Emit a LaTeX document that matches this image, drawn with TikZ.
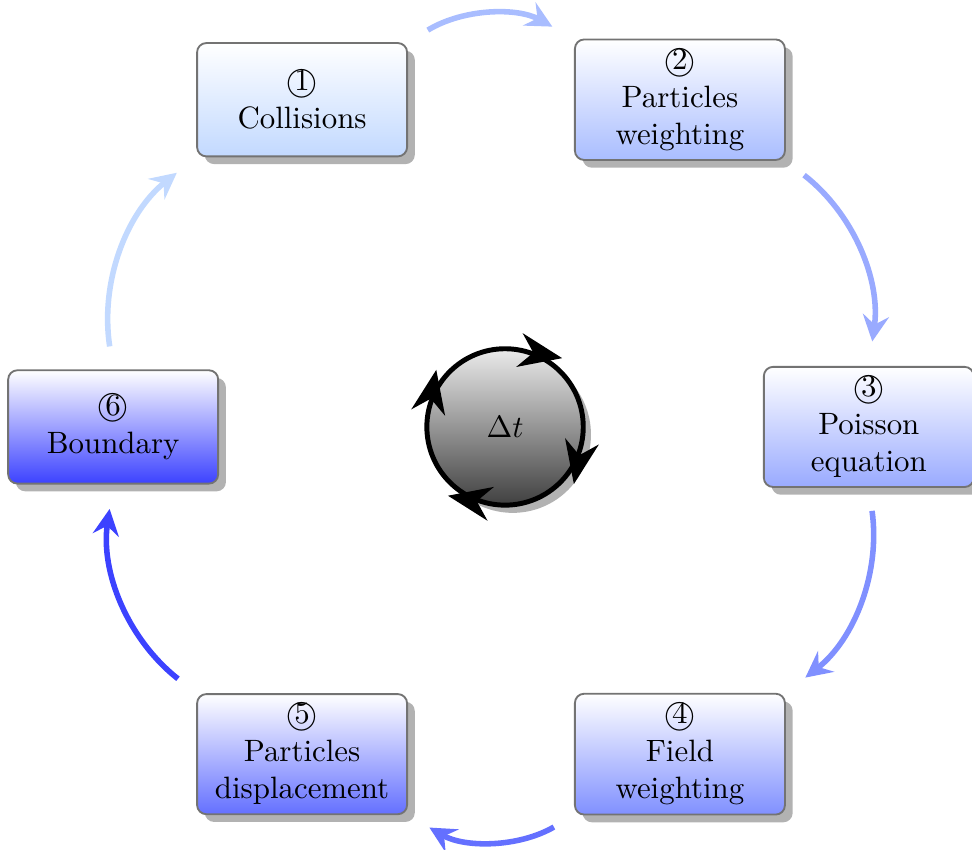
\documentclass[tikz,border=0pt]{standalone}
\usepackage{tikz}
\usetikzlibrary{arrows.meta, shadows, decorations.markings}
\definecolor{stepA}{HTML}{C2D9FF}
\definecolor{stepB}{HTML}{A9BDFF}
\definecolor{stepC}{HTML}{99AAFF}
\definecolor{stepD}{HTML}{8090FF}
\definecolor{stepE}{HTML}{6470FF}
\definecolor{stepF}{HTML}{3C42FF}
\tikzset{
  stepbox/.style={
    rectangle,
    draw=black!55,
    line width=0.6pt,
    rounded corners=3pt,
    minimum width=2.39cm,
    minimum height=1.29cm,
    align=center,
    inner sep=3pt,
    top color=white,
    bottom color=#1,
    drop shadow={shadow xshift=2.5pt, shadow yshift=-2.5pt, fill=black!30, opacity=1}
  },
  cyclearrow/.style={
    draw=#1,
    line width=1.8pt,
    -{Stealth[length=8.5pt,width=8.5pt,inset=3pt]},
    shorten <=7.5pt,
    shorten >=8pt,
    bend left=30
  },
  clockcircle/.style={
    circle,
    draw=black,
    line width=1.6pt,
    minimum size=1.78cm,
    top color=black!8,
    bottom color=black!75,
    drop shadow={shadow xshift=2.5pt, shadow yshift=-2.5pt, fill=black!30, opacity=1},
    >={Stealth[length=14pt,width=11pt,inset=4.5pt]},
    postaction={decorate},
    decoration={markings,
      mark=at position 0.22 with {\arrow{<}},
      mark=at position 0.47 with {\arrow{<}},
      mark=at position 0.72 with {\arrow{<}},
      mark=at position 0.97 with {\arrow{<}}}
  }
}

\begin{document}
\begin{tikzpicture}
  \useasboundingbox (-5.588,-4.814) rectangle (5.474,4.859);
  % steps of one time step
  \node[stepbox=stepA] (b1) at (120:4.3) {\textcircled{1}\\Collisions};
  \node[stepbox=stepB] (b2) at (60:4.3)  {\textcircled{2}\\Particles\\weighting};
  \node[stepbox=stepC] (b3) at (0:4.3)   {\textcircled{3}\\Poisson\\equation};
  \node[stepbox=stepD] (b4) at (-60:4.3) {\textcircled{4}\\Field\\weighting};
  \node[stepbox=stepE] (b5) at (-120:4.3) {\textcircled{5}\\Particles\\displacement};
  \node[stepbox=stepF] (b6) at (180:4.3) {\textcircled{6}\\Boundary};
  \node[clockcircle] (dt) at (0.16,0) {$\Delta t$};
  % cycle
  \draw[cyclearrow=stepB] (b1.north east) to (b2.north west);
  \draw[cyclearrow=stepC] (b2.south east) to (b3.north);
  \draw[cyclearrow=stepD] (b3.south) to (b4.north east);
  \draw[cyclearrow=stepE] (b4.south west) to (b5.south east);
  \draw[cyclearrow=stepF] (b5.north west) to (b6.south);
  \draw[cyclearrow=stepA] (b6.north) to (b1.south west);
\end{tikzpicture}
\end{document}
